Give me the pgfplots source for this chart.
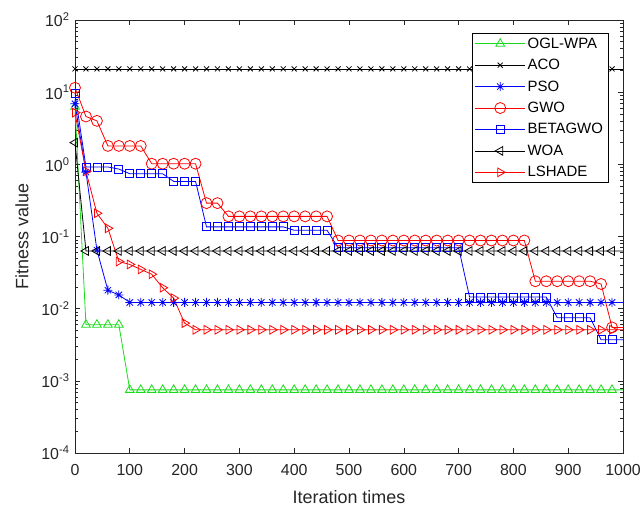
\documentclass[border=0pt]{standalone}
\usepackage{fontspec}
\setmainfont{Liberation Sans}
\usepackage{pgfplots}
\usepackage{pgfplotstable}
\pgfplotsset{compat=1.18}
\definecolor{mgreen}{RGB}{25,220,25}
\definecolor{axgray}{RGB}{38,38,38}
\pgfdeclareplotmark{mstar}{%
  \pgfpathmoveto{\pgfqpoint{0pt}{\pgfplotmarksize}}\pgfpathlineto{\pgfqpoint{0pt}{-\pgfplotmarksize}}%
  \pgfpathmoveto{\pgfqpoint{\pgfplotmarksize}{0pt}}\pgfpathlineto{\pgfqpoint{-\pgfplotmarksize}{0pt}}%
  \pgfpathmoveto{\pgfqpoint{0.7071\pgfplotmarksize}{0.7071\pgfplotmarksize}}\pgfpathlineto{\pgfqpoint{-0.7071\pgfplotmarksize}{-0.7071\pgfplotmarksize}}%
  \pgfpathmoveto{\pgfqpoint{0.7071\pgfplotmarksize}{-0.7071\pgfplotmarksize}}\pgfpathlineto{\pgfqpoint{-0.7071\pgfplotmarksize}{0.7071\pgfplotmarksize}}%
  \pgfusepathqstroke}

\pgfplotstableread{
x    ogl     aco  pso     gwo    beta    woa    lsh
0    6.3     21   6.9     11.5   9.6     2.0    5.2
20   0.006   21   0.78    4.6    0.92    0.063  0.8
40   0.006   21   0.065   4.0    0.92    0.063  0.21
60   0.006   21   0.018   1.8    0.92    0.063  0.13
80   0.006   21   0.0155  1.8    0.86    0.063  0.045
100  0.00075 21   0.0122  1.8    0.74    0.063  0.041
120  0.00075 21   0.0122  1.8    0.74    0.063  0.035
140  0.00075 21   0.0122  1.02   0.74    0.063  0.030
160  0.00075 21   0.0122  1.02   0.74    0.063  0.0195
180  0.00075 21   0.0122  1.02   0.58    0.063  0.014
200  0.00075 21   0.0122  1.02   0.58    0.063  0.0063
220  0.00075 21   0.0122  1.02   0.58    0.063  0.0051
240  0.00075 21   0.0122  0.29   0.136   0.063  0.0051
260  0.00075 21   0.0122  0.29   0.136   0.063  0.0051
280  0.00075 21   0.0122  0.19   0.136   0.063  0.0051
300  0.00075 21   0.0122  0.19   0.136   0.063  0.0051
320  0.00075 21   0.0122  0.19   0.136   0.063  0.0051
340  0.00075 21   0.0122  0.19   0.136   0.063  0.0051
360  0.00075 21   0.0122  0.19   0.136   0.063  0.0051
380  0.00075 21   0.0122  0.19   0.136   0.063  0.0051
400  0.00075 21   0.0122  0.19   0.122   0.063  0.0051
420  0.00075 21   0.0122  0.19   0.122   0.063  0.0051
440  0.00075 21   0.0122  0.19   0.122   0.063  0.0051
460  0.00075 21   0.0122  0.19   0.122   0.063  0.0051
480  0.00075 21   0.0122  0.088  0.070   0.063  0.0051
500  0.00075 21   0.0122  0.088  0.070   0.063  0.0051
520  0.00075 21   0.0122  0.088  0.070   0.063  0.0051
540  0.00075 21   0.0122  0.088  0.070   0.063  0.0051
560  0.00075 21   0.0122  0.088  0.070   0.063  0.0051
580  0.00075 21   0.0122  0.088  0.070   0.063  0.0051
600  0.00075 21   0.0122  0.088  0.070   0.063  0.0051
620  0.00075 21   0.0122  0.088  0.070   0.063  0.0051
640  0.00075 21   0.0122  0.088  0.070   0.063  0.0051
660  0.00075 21   0.0122  0.088  0.070   0.063  0.0051
680  0.00075 21   0.0122  0.088  0.070   0.063  0.0051
700  0.00075 21   0.0122  0.088  0.070   0.063  0.0051
720  0.00075 21   0.0122  0.088  0.0145  0.063  0.0051
740  0.00075 21   0.0122  0.088  0.0145  0.063  0.0051
760  0.00075 21   0.0122  0.088  0.0145  0.063  0.0051
780  0.00075 21   0.0122  0.088  0.0145  0.063  0.0051
800  0.00075 21   0.0122  0.088  0.0145  0.063  0.0051
820  0.00075 21   0.0122  0.088  0.0145  0.063  0.0051
840  0.00075 21   0.0122  0.024  0.0145  0.063  0.0051
860  0.00075 21   0.0122  0.024  0.0145  0.063  0.0051
880  0.00075 21   0.0122  0.024  0.0075  0.063  0.0051
900  0.00075 21   0.0122  0.024  0.0075  0.063  0.0051
920  0.00075 21   0.0122  0.024  0.0075  0.063  0.0051
940  0.00075 21   0.0122  0.024  0.0075  0.063  0.0051
960  0.00075 21   0.0122  0.022  0.0037  0.063  0.0051
980  0.00075 21   0.0122  0.0055 0.0037  0.063  0.0051
1000 0.00075 21   0.0122  0.0055 0.0037  0.063  0.0051
}\datatable

\begin{document}
\begin{tikzpicture}
\begin{axis}[
  scale only axis, width=548bp, height=433bp,
  ymode=log, xmin=0, xmax=1000, ymin=1e-4, ymax=1e2,
  xtick={0,100,...,1000},
  yticklabel={\pgfmathparse{int(round(\tick/2.302585))}10\textsuperscript{\pgfmathresult}},
  tick align=inside,
  major tick length=5bp, minor tick length=3bp,
  tick label style={font=\fontsize{16}{19}\selectfont, color=axgray},
  yticklabel style={xshift=-2bp},
  xticklabel style={yshift=-8bp},
  label style={font=\fontsize{18}{21}\selectfont, color=axgray},
  xlabel={Iteration times}, ylabel={Fitness value},
  xlabel style={yshift=-8bp},
  ylabel style={yshift=6bp},
  axis line style={axgray, line width=0.8bp},
  every tick/.style={axgray, line width=0.6bp},
  /pgf/number format/assume math mode=true,
  x tick label style={/pgf/number format/1000 sep={}},
  legend style={at={(0.973,0.97)}, anchor=north east, draw=black, line width=0.6bp, fill=white,
    font=\fontsize{15}{17}\selectfont, row sep=6.5bp, inner sep=3bp, cells={anchor=west},
    nodes={inner xsep=2bp, inner ysep=1.5bp}},
  legend image code/.code={\draw[mark=none] (0bp,0bp) -- (50bp,0bp); \draw plot coordinates {(25bp,0bp)};},
  mark indices={1,...,50},
  every axis plot/.append style={line width=0.8bp},
]
\addplot[mgreen, mark=triangle, mark size=5bp] table[x=x,y=ogl] {\datatable};
\addlegendentry{OGL-WPA}
\addplot[black, mark=x, mark size=3.5bp] table[x=x,y=aco] {\datatable};
\addlegendentry{ACO}
\addplot[blue, mark=mstar, mark size=4.5bp] table[x=x,y=pso] {\datatable};
\addlegendentry{PSO}
\addplot[red, mark=o, mark size=5.5bp] table[x=x,y=gwo] {\datatable};
\addlegendentry{GWO}
\addplot[blue, mark=square, mark size=4bp] table[x=x,y=beta] {\datatable};
\addlegendentry{BETAGWO}
\addplot[black, mark=triangle, mark size=5bp, mark options={rotate=90}] table[x=x,y=woa] {\datatable};
\addlegendentry{WOA}
\addplot[red, mark=triangle, mark size=5bp, mark options={rotate=-90}] table[x=x,y=lsh] {\datatable};
\addlegendentry{LSHADE}
\end{axis}
\pgfresetboundingbox
\path[use as bounding box] ([shift={(-75bp,-53bp)}]current axis.south west) rectangle ([shift={(21bp,20bp)}]current axis.north east);
\end{tikzpicture}
\end{document}
